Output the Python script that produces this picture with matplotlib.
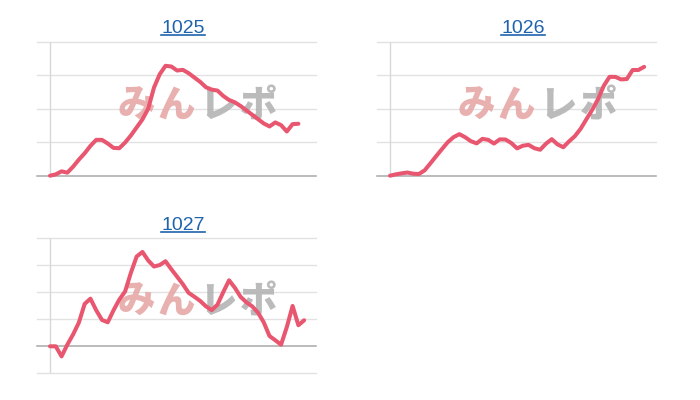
import matplotlib
matplotlib.use("Agg")
import matplotlib.pyplot as plt
from matplotlib.lines import Line2D

titles = ["1025", "1026", "1027"]

values_1025 = [0, 40, 130, 90, 270, 480, 670, 890, 1070, 1070, 960, 830, 820, 990,
               1200, 1440, 1680, 2000, 2630, 3030, 3280, 3260, 3140, 3160, 3060, 2930,
               2800, 2640, 2570, 2540, 2380, 2260, 2190, 2080, 1950, 1820, 1690, 1560,
               1470, 1590, 1510, 1320, 1540, 1550]
values_1026 = [0, 40, 70, 95, 60, 50, 160, 370, 585, 795, 1000, 1150, 1240, 1150, 1030,
               965, 1100, 1070, 960, 1085, 1080, 975, 815, 895, 920, 820, 775, 955, 1090,
               935, 850, 1025, 1180, 1400, 1685, 1965, 2280, 2680, 2950, 2950, 2875, 2885,
               3155, 3155, 3250]
values_1027 = [0, 0, -374, 60, 440, 880, 1570, 1765, 1335, 975, 890, 1335, 1730, 2030,
               2720, 3325, 3495, 3180, 2955, 3010, 3150, 2855, 2580, 2300, 1980, 1835,
               1680, 1480, 1340, 1545, 2010, 2445, 2170, 1830, 1630, 1480, 1250, 890, 380,
               225, 60, 715, 1495, 780, 965]

series = [values_1025, values_1026, values_1027]
grid_ticks = [[0, 1000, 2000, 3000, 4000],
              [0, 1000, 2000, 3000, 4000],
              [-1000, 0, 1000, 2000, 3000, 4000]]
watermark_chars = ["み", "ん", "レ", "ポ"]

W, H = 700, 400
fig = plt.figure(figsize=(7, 4), dpi=100)
fig.patch.set_facecolor("white")

# panel boxes in pixel coords: left, top, right, bottom
boxes = [(37, 41.7, 316, 175.7), (377, 41.7, 656, 175.7), (37, 238.3, 316, 373.3)]
title_pos = [(183, 32.7), (523, 32.7), (183, 229.5)]
wm_centers_y = [106, 106, 302]
wm_offsets_x = [0, 340, 0]
wm_x = [136, 176, 218, 259]
wm_colors = ["#e6a3a3", "#e6a3a3", "#b0b0b0", "#b0b0b0"]

line_color = "#e8566f"
title_color = "#1f63ad"

renderer = fig.canvas.get_renderer()

for i in range(3):
    l, t, r, b = boxes[i]
    ax = fig.add_axes([l / W, 1 - b / H, (r - l) / W, (b - t) / H])
    ax.set_facecolor("none")
    ticks = grid_ticks[i]
    vals = series[i]
    xs = list(range(len(vals)))
    ax.set_xlim(-2.25, 46.05)
    ax.set_ylim(ticks[0], ticks[-1])
    for tv in ticks:
        if tv == 0:
            ax.axhline(tv, color="#a8a8a8", lw=1.1, zorder=1.2, clip_on=False)
        else:
            ax.axhline(tv, color="#e2e2e2", lw=1.0, zorder=1, clip_on=False)
    ax.axvline(0, color="#d8d8d8", lw=1.0, zorder=1.1)
    ax.plot(xs, vals, color=line_color, lw=2.9, solid_joinstyle="round",
            solid_capstyle="round", zorder=3, clip_on=False)
    for sp in ax.spines.values():
        sp.set_visible(False)
    ax.set_xticks([])
    ax.set_yticks([])

    # watermark
    for ch, cx, col in zip(watermark_chars, wm_x, wm_colors):
        ax.text((cx + wm_offsets_x[i]) / W, 1 - wm_centers_y[i] / H, ch,
                transform=fig.transFigure, ha="center", va="center",
                fontsize=27, fontweight="heavy", color=col, alpha=0.85,
                family=["Noto Sans CJK JP", "DejaVu Sans"], zorder=2)

    # title with underline
    tx, ty = title_pos[i]
    txt = fig.text(tx / W, 1 - ty / H, titles[i], ha="center", va="baseline",
                   fontsize=14, color=title_color, family=["Liberation Sans", "DejaVu Sans"])
    bb = txt.get_window_extent(renderer=renderer)
    uy = (1 - (ty + 2.6) / H)
    fig.add_artist(Line2D([bb.x0 / W, bb.x1 / W], [uy, uy], transform=fig.transFigure,
                          color=title_color, lw=1.2))

fig.savefig("out.png", dpi=100, facecolor="white")
